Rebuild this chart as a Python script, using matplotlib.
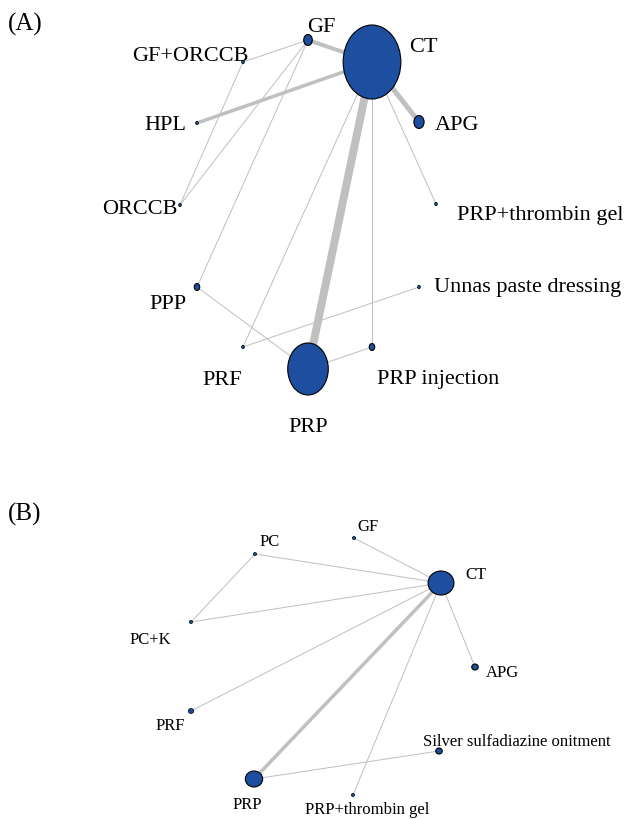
import matplotlib.pyplot as plt
from matplotlib.patches import Ellipse

# ---- data: panel A ----
a_nodes = ['CT', 'GF', 'GF+ORCCB', 'HPL', 'ORCCB', 'APG', 'PRP+thrombin gel',
           'PPP', 'PRF', 'PRP', 'PRP injection', 'Unnas paste dressing']
a_node_weight = [74, 11, 3.5, 3.5, 3.5, 13, 3.5, 7, 3.5, 52, 7, 3.5]
a_edges = [('CT', 'PRP'), ('CT', 'APG'), ('CT', 'GF'), ('CT', 'HPL'),
           ('CT', 'PRF'), ('CT', 'PRP injection'), ('CT', 'PRP+thrombin gel'),
           ('GF', 'GF+ORCCB'), ('GF', 'ORCCB'), ('GF', 'PPP'),
           ('GF+ORCCB', 'ORCCB'), ('PPP', 'PRP'), ('PRF', 'Unnas paste dressing'),
           ('PRP', 'PRP injection')]
a_edge_weight = [8, 5, 4, 3.5, 1, 1, 1, 1, 1, 1, 1, 1, 1, 1]

# ---- data: panel B ----
b_nodes = ['CT', 'GF', 'PC', 'PC+K', 'APG', 'PRF',
           'Silver sulfadiazine onitment', 'PRP', 'PRP+thrombin gel']
b_node_weight = [24, 3, 3, 3, 6, 5, 6, 16, 3]
b_edges = [('CT', 'PRP'), ('CT', 'GF'), ('CT', 'PC'), ('CT', 'PC+K'),
           ('PC', 'PC+K'), ('CT', 'PRF'), ('CT', 'PRP+thrombin gel'),
           ('CT', 'APG'), ('PRP', 'Silver sulfadiazine onitment')]
b_edge_weight = [3.5, 1, 1, 1, 1, 1, 1, 1, 1]

# ---- layout (pixel coordinates) ----
a_pos = {'CT': (372, 62), 'GF': (308, 40), 'GF+ORCCB': (243, 62),
         'HPL': (197, 123), 'ORCCB': (180, 205), 'APG': (419, 122),
         'PRP+thrombin gel': (436, 204), 'PPP': (197, 287), 'PRF': (243, 347),
         'PRP': (308, 369), 'PRP injection': (372, 347),
         'Unnas paste dressing': (419, 287)}
# label: (x, baseline y, horizontal alignment)
a_lab = {'CT': (409, 52, 'left'), 'GF': (307, 32, 'left'),
         'GF+ORCCB': (249, 61, 'right'), 'HPL': (186, 130, 'right'),
         'ORCCB': (178, 214, 'right'), 'APG': (435, 130, 'left'),
         'PRP+thrombin gel': (457, 220, 'left'), 'PPP': (168, 309, 'center'),
         'PRF': (222, 385, 'center'), 'PRP': (308, 432, 'center'),
         'PRP injection': (377, 384, 'left'),
         'Unnas paste dressing': (434, 292, 'left')}

b_pos = {'CT': (441, 583), 'GF': (354, 538), 'PC': (255, 554),
         'PC+K': (191, 622), 'APG': (475, 667), 'PRF': (191, 711),
         'Silver sulfadiazine onitment': (439, 751), 'PRP': (254, 779),
         'PRP+thrombin gel': (353, 795)}
b_lab = {'CT': (476, 579, 'center'), 'GF': (368, 531, 'center'),
         'PC': (270, 546, 'center'), 'PC+K': (150, 644, 'center'),
         'APG': (502, 677, 'center'), 'PRF': (170, 730, 'center'),
         'Silver sulfadiazine onitment': (517, 746, 'center'),
         'PRP': (247, 809, 'center'), 'PRP+thrombin gel': (367, 814, 'center')}

plt.rcParams['font.family'] = ['Liberation Serif', 'DejaVu Serif']

fig = plt.figure(figsize=(6.25, 8.19), dpi=100)
ax = fig.add_axes([0, 0, 1, 1])
ax.set_xlim(0, 625)
ax.set_ylim(819, 0)
ax.axis('off')

node_color = '#1d4e9f'
edge_color = '#c0c0c0'


def draw_network(nodes, weights, edges, edge_w, pos, labels, aspect, fsize):
    for (u, v), w in zip(edges, edge_w):
        x0, y0 = pos[u]
        x1, y1 = pos[v]
        ax.plot([x0, x1], [y0, y1], color=edge_color, lw=w * 0.72,
                solid_capstyle='butt', zorder=1)
    for n, d in zip(nodes, weights):
        x, y = pos[n]
        ax.add_patch(Ellipse((x, y), d * aspect, d, facecolor=node_color,
                             edgecolor='black', lw=0.8 if d > 5 else 0.5,
                             zorder=2))
        lx, ly, ha = labels[n]
        ax.text(lx, ly, n, fontsize=fsize, ha=ha, va='baseline',
                color='black', zorder=3)


draw_network(a_nodes, a_node_weight, a_edges, a_edge_weight, a_pos, a_lab,
             0.78, 16)
draw_network(b_nodes, b_node_weight, b_edges, b_edge_weight, b_pos, b_lab,
             1.08, 12)

ax.text(8, 31, '(A)', fontsize=18, ha='left', va='baseline')
ax.text(8, 521, '(B)', fontsize=18, ha='left', va='baseline')

fig.savefig('out.png', dpi=100)
